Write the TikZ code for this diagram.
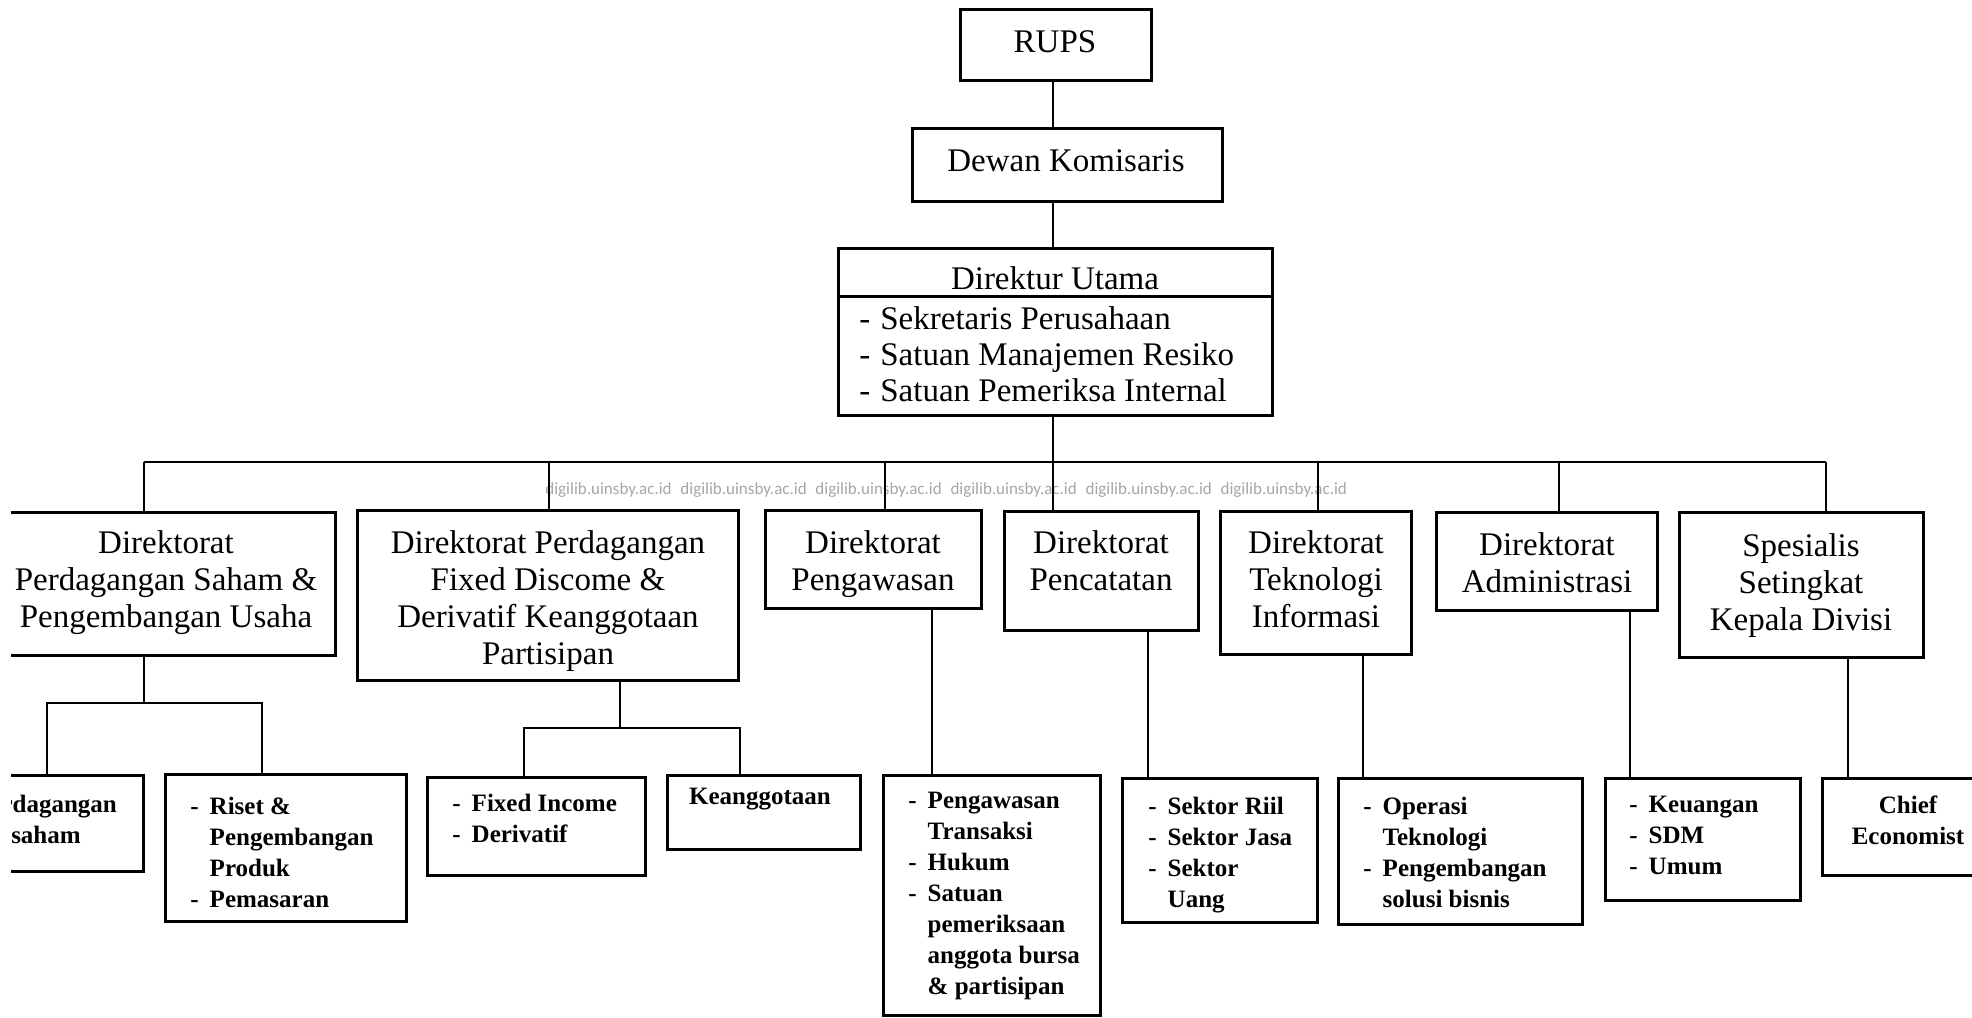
\documentclass[tikz,border=0pt]{standalone}
\usepackage{fontspec}
\setmainfont{Liberation Serif}
\newfontfamily\wmfont{Carlito}
\newcommand\obox[5]{\node[box, minimum width={((#4)-(#2))*0.5pt}, minimum height={((#5)-(#3))*0.5pt}] (#1) at ({((#2)+(#4))/2},{((#3)+(#5))/2}) {};}
\newcommand\wmtxt{digilib.uinsby.ac.id}
\begin{document}
\begin{tikzpicture}[x=0.5pt,y=-0.5pt,
  box/.style={draw, line width=1.5pt, inner sep=0pt, outer sep=0pt},
  conn/.style={line width=1.3pt},
  up/.style={inner sep=0pt, font=\fontsize{16.5}{18.5}\selectfont},
  low/.style={inner sep=0pt, font=\bfseries\fontsize{12.5}{15.5}\selectfont},
  wm/.style={inner sep=0pt, text=black!35, font=\wmfont\fontsize{8.5}{10}\selectfont}]
\useasboundingbox (0,0) rectangle (1972,1018);
\fill[white] (0,0) rectangle (1972,1018);
\clip (11,0) rectangle (1972,1018);

% watermark
\node[wm, anchor=base west] (wmark) at (545,494) {\wmtxt\hspace{4.4pt}\wmtxt\hspace{4.4pt}\wmtxt\hspace{4.4pt}\wmtxt\hspace{4.4pt}\wmtxt\hspace{4.4pt}\wmtxt};

% boxes
\obox{rups}{960}{9}{1151}{80}
\obox{dewan}{912}{128}{1222}{201}
\obox{dirut}{838}{248}{1272}{415}
\obox{dA}{-20}{512}{335}{655}
\obox{dB}{357}{510}{738}{680}
\obox{dC}{765}{510}{981}{608}
\obox{dD}{1004}{511}{1198}{630}
\obox{dE}{1220}{511}{1411}{654}
\obox{dF}{1436}{512}{1657}{610}
\obox{dG}{1679}{512}{1923}{657}
\obox{a1}{-20}{775}{143}{871}
\obox{a2}{165}{774}{406}{921}
\obox{b1}{427}{777}{645}{875}
\obox{b2}{667}{775}{860}{849}
\obox{c1}{883}{775}{1100}{1015}
\obox{d1}{1122}{778}{1317}{922}
\obox{e1}{1338}{778}{1582}{924}
\obox{f1}{1605}{778}{1800}{900}
\obox{g1}{1822}{778}{2000}{875}

% divider in Direktur Utama
\coordinate (dv) at (0,296);
\draw[line width=1.5pt] (dirut.west |- dv) -- (dirut.east |- dv);

% top texts
\node[up, anchor=base] (trups) at (1055,52) {RUPS};
\node[up, anchor=base] (tdewan) at (1066,171) {Dewan Komisaris};
\node[up, anchor=base] (tdirut) at (1055,289) {Direktur Utama};
\node[up, anchor=base west] (ldirut) at (859,329) {\fontsize{16.5}{18}\selectfont\begin{tabular}[t]{@{}l@{\hspace{5pt}}l@{}}- & Sekretaris Perusahaan\\ - & Satuan Manajemen Resiko\\ - & Satuan Pemeriksa Internal\end{tabular}};

% level 2 texts
\node[up, anchor=base] (tA) at (166,553) {\begin{tabular}[t]{@{}c@{}}Direktorat\\Perdagangan Saham \&\\Pengembangan Usaha\end{tabular}};
\node[up, anchor=base] (tB) at (548,553) {\begin{tabular}[t]{@{}c@{}}Direktorat Perdagangan\\Fixed Discome \&\\Derivatif Keanggotaan\\Partisipan\end{tabular}};
\node[up, anchor=base] (tC) at (873,553) {\begin{tabular}[t]{@{}c@{}}Direktorat\\Pengawasan\end{tabular}};
\node[up, anchor=base] (tD) at (1101,553) {\begin{tabular}[t]{@{}c@{}}Direktorat\\Pencatatan\end{tabular}};
\node[up, anchor=base] (tE) at (1316,553) {\begin{tabular}[t]{@{}c@{}}Direktorat\\Teknologi\\Informasi\end{tabular}};
\node[up, anchor=base] (tF) at (1547,555) {\begin{tabular}[t]{@{}c@{}}Direktorat\\Administrasi\end{tabular}};
\node[up, anchor=base] (tG) at (1801,556) {\begin{tabular}[t]{@{}c@{}}Spesialis\\Setingkat\\Kepala Divisi\end{tabular}};

% bottom texts
\node[low, anchor=base] (ta1) at (46,812) {\begin{tabular}[t]{@{}c@{}}Perdagangan\\saham\end{tabular}};
\node[low, anchor=base west] (ta2) at (190,814) {\begin{tabular}[t]{@{}l@{\hspace{5.5pt}}l@{}}- & Riset \&\\ & Pengembangan\\ & Produk\\ - & Pemasaran\end{tabular}};
\node[low, anchor=base west] (tb1) at (452,811) {\begin{tabular}[t]{@{}l@{\hspace{5.5pt}}l@{}}- & Fixed Income\\ - & Derivatif\end{tabular}};
\node[low, anchor=base] (tb2) at (760,804) {Keanggotaan};
\node[low, anchor=base west] (tc1) at (908,808) {\begin{tabular}[t]{@{}l@{\hspace{5.5pt}}l@{}}- & Pengawasan\\ & Transaksi\\ - & Hukum\\ - & Satuan\\ & pemeriksaan\\ & anggota bursa\\ & \& partisipan\end{tabular}};
\node[low, anchor=base west] (td1) at (1148,814) {\begin{tabular}[t]{@{}l@{\hspace{5.5pt}}l@{}}- & Sektor Riil\\ - & Sektor Jasa\\ - & Sektor\\ & Uang\end{tabular}};
\node[low, anchor=base west] (te1) at (1363,814) {\begin{tabular}[t]{@{}l@{\hspace{5.5pt}}l@{}}- & Operasi\\ & Teknologi\\ - & Pengembangan\\ & solusi bisnis\end{tabular}};
\node[low, anchor=base west] (tf1) at (1629,812) {\begin{tabular}[t]{@{}l@{\hspace{5.5pt}}l@{}}- & Keuangan\\ - & SDM\\ - & Umum\end{tabular}};
\node[low, anchor=base] (tg1) at (1908,813) {\begin{tabular}[t]{@{}c@{}}Chief\\Economist\end{tabular}};

% connectors: spine
\coordinate (tx) at (1053,0);
\draw[conn] (rups.south -| tx) -- (dewan.north -| tx);
\draw[conn] (dewan.south -| tx) -- (dirut.north -| tx);
\draw[conn] (dirut.south -| tx) -- (dD.north -| tx);
% bus
\coordinate (busL) at (144,462);
\coordinate (busR) at (1826,462);
\coordinate (xB) at (549,462);
\coordinate (xC) at (885,462);
\coordinate (xE) at (1318,462);
\coordinate (xF) at (1559,462);
\draw[conn] (busL) -- (busR);
\draw[conn] (busL) -- (dA.north -| busL);
\draw[conn] (xB) -- (dB.north -| xB);
\draw[conn] (xC) -- (dC.north -| xC);
\draw[conn] (xE) -- (dE.north -| xE);
\draw[conn] (xF) -- (dF.north -| xF);
\draw[conn] (busR) -- (dG.north -| busR);

% A children
\coordinate (ja) at (144,703);
\coordinate (ja1) at (47,703);
\coordinate (ja2) at (262,703);
\draw[conn] (dA.south -| ja) -- (ja);
\draw[conn] (a1.north -| ja1) -- (ja1) -- (ja2) -- (a2.north -| ja2);
% B children
\coordinate (jb) at (620,728);
\coordinate (jb1) at (524,728);
\coordinate (jb2) at (740,728);
\draw[conn] (dB.south -| jb) -- (jb);
\draw[conn] (b1.north -| jb1) -- (jb1) -- (jb2) -- (b2.north -| jb2);
% single children
\coordinate (jc) at (932,0);
\coordinate (jd) at (1148,0);
\coordinate (je) at (1363,0);
\coordinate (jf) at (1630,0);
\coordinate (jg) at (1848,0);
\draw[conn] (dC.south -| jc) -- (c1.north -| jc);
\draw[conn] (dD.south -| jd) -- (d1.north -| jd);
\draw[conn] (dE.south -| je) -- (e1.north -| je);
\draw[conn] (dF.south -| jf) -- (f1.north -| jf);
\draw[conn] (dG.south -| jg) -- (g1.north -| jg);
\end{tikzpicture}
\end{document}
